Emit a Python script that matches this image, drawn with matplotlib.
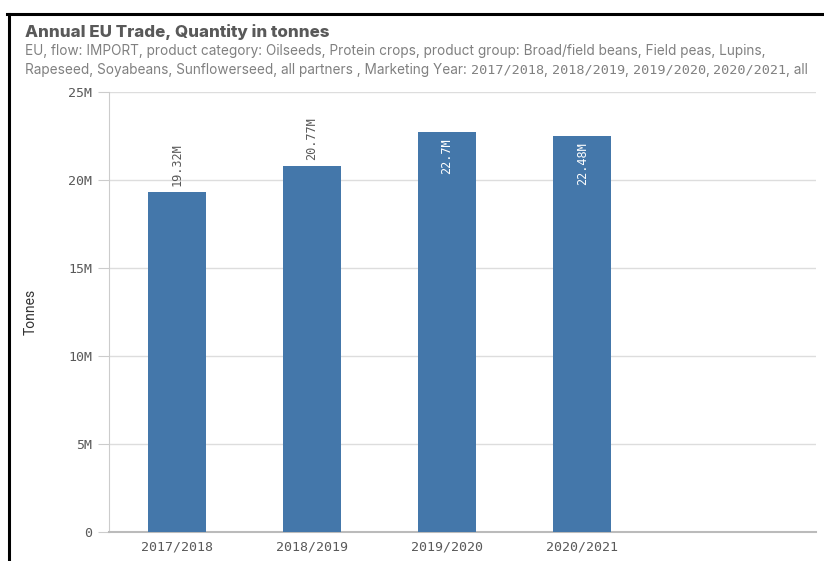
import matplotlib.pyplot as plt
from matplotlib.lines import Line2D
from matplotlib.ticker import FixedLocator

# annual EU imports, oilseeds + protein crops (tonnes)
years = ['2017/2018', '2018/2019', '2019/2020', '2020/2021']
tonnes = [19.32e6, 20.77e6, 22.7e6, 22.48e6]
value_labels = ['19.32M', '20.77M', '22.7M', '22.48M']
y_ticks = [0, 5e6, 10e6, 15e6, 20e6, 25e6]
y_tick_labels = ['0', '5M', '10M', '15M', '20M', '25M']

title = 'Annual EU Trade, Quantity in tonnes'
subtitle_1 = ('EU, flow: IMPORT, product category: Oilseeds, Protein crops, '
              'product group: Broad/field beans, Field peas, Lupins,')
subtitle_2 = 'Rapeseed, Soyabeans, Sunflowerseed, all partners , Marketing Year: '

bar_color = '#4477aa'
grid_color = '#dddddd'
text_gray = '#595959'
sub_gray = '#808080'
mono = ['DejaVu Sans Mono']
sans = ['Inter']

fig = plt.figure(figsize=(8.24, 5.61), dpi=100)
ax = fig.add_axes([109 / 824, 1 - 532 / 561, (816 - 109) / 824, (532 - 92) / 561])

x = list(range(len(years)))
ax.bar(x, tonnes, width=0.43, color=bar_color, zorder=3)

ax.set_xlim(-0.5, 4.73)
ax.set_ylim(0, 25e6)
ax.yaxis.set_major_locator(FixedLocator(y_ticks))
ax.set_yticklabels(y_tick_labels, family=mono, fontsize=9.5, color=text_gray)
ax.set_xticks(x)
ax.set_xticklabels(years, family=mono, fontsize=9.5, color=text_gray)
ax.tick_params(axis='y', length=8, width=0.8, color='#cccccc', pad=4)
ax.tick_params(axis='x', length=0, pad=6)

ax.grid(axis='y', color=grid_color, linewidth=1, zorder=0)
for side in ['top', 'right']:
    ax.spines[side].set_visible(False)
ax.spines['left'].set_color('#cccccc')
ax.spines['bottom'].set_color('#bbbbbb')
ax.spines['bottom'].set_linewidth(1.5)

ax.set_ylabel('Tonnes', fontsize=10, color='#333333', family=['Roboto'])
ax.yaxis.set_label_coords((38 - 109) / 707, 0.5)

# value labels: outside for shorter bars, inside near the top for taller ones
for xi, val, lab in zip(x, tonnes, value_labels):
    if val < 21e6:
        ax.annotate(lab, (xi, val), xytext=(0, 4.5), textcoords='offset points',
                    rotation=90, ha='center', va='bottom', fontsize=8.6,
                    color=text_gray, family=mono)
    else:
        ax.annotate(lab, (xi, val), xytext=(0, -4), textcoords='offset points',
                    rotation=90, ha='center', va='top', fontsize=8.6,
                    color='white', family=mono)

fig.text(25 / 824, 1 - 32 / 561, title, fontsize=12.2, fontweight='heavy',
         color=text_gray, va='center', family=sans)
fig.text(25 / 824, 1 - 51 / 561, subtitle_1,
         fontsize=9.8, color=sub_gray, va='center', family=sans)

# second subtitle line: the marketing years are set in a monospaced face
renderer = fig.canvas.get_renderer()
pieces = [(subtitle_2, sans, 9.8)]
for i, yr in enumerate(years):
    pieces.append((yr, mono, 9.7))
    pieces.append((', ' if i < len(years) - 1 else ', all', sans, 9.8))
x_pos = 25 / 824
for txt, fam, size in pieces:
    t = fig.text(x_pos, 1 - 70 / 561, txt, fontsize=size, color=sub_gray,
                 va='center', family=fam)
    x_pos = t.get_window_extent(renderer).x1 / fig.bbox.width

# dark frame on top and left
fig.add_artist(Line2D([8.5 / 824, 8.5 / 824], [0, 1 - 14 / 561], color='black', linewidth=2.2))
fig.add_artist(Line2D([7.5 / 824, 1], [1 - 14 / 561, 1 - 14 / 561], color='black', linewidth=2.2))

fig.savefig('out.png', dpi=100)
